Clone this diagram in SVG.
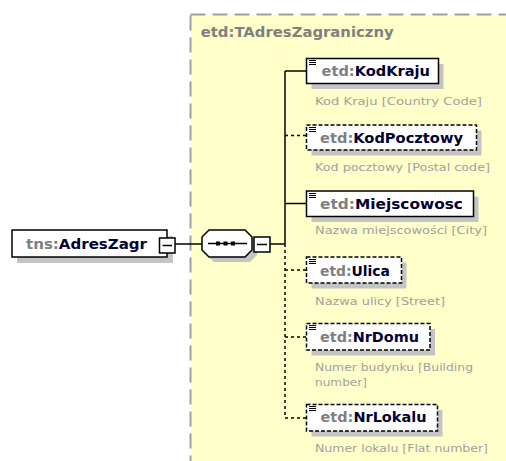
<svg xmlns="http://www.w3.org/2000/svg" width="506" height="461" viewBox="0 0 506 461">
<style>
.box{fill:#fff;stroke:#000;stroke-width:1.5}
.dbox{fill:#fff;stroke:#000;stroke-width:1.5;stroke-dasharray:4 2}
.sh{fill:#c4c4c4}
.nm{font-family:"DejaVu Sans",sans-serif;font-size:13.5px;font-weight:bold;fill:#000033}
.pf{fill:#808080}
.ds{font-family:"DejaVu Sans",sans-serif;font-size:11px;fill:#a0a0a0}
.ln{stroke:#000;stroke-width:1.5;fill:none}
.dl{stroke:#000;stroke-width:1.5;fill:none;stroke-dasharray:3 3}
.ic{stroke:#000;stroke-width:1}
</style>
<rect width="506" height="461" fill="#fff"/>
<g id="type-region">
<rect x="190.5" y="14.5" width="340" height="460" fill="#ffffca" stroke="#a0a0a0" stroke-width="2" stroke-dasharray="15 7"/>
<text x="200.7" y="36.5" font-family="DejaVu Sans, sans-serif" font-size="13.5px" font-weight="bold" fill="#808080" textLength="193" lengthAdjust="spacingAndGlyphs">etd:TAdresZagraniczny</text>
</g>
<g id="connectors">
<line class="ln" x1="175" y1="244" x2="202" y2="244"/>
<line class="ln" x1="270" y1="244" x2="285" y2="244"/>
<line class="ln" x1="285" y1="71" x2="285" y2="244"/>
<line class="dl" x1="285" y1="244" x2="285" y2="418"/>
<line class="ln" x1="285" y1="71" x2="306.5" y2="71"/>
<line class="dl" x1="285" y1="135.5" x2="306.5" y2="135.5"/>
<line class="ln" x1="285" y1="203.5" x2="306.5" y2="203.5"/>
<line class="dl" x1="285" y1="270" x2="306.5" y2="270"/>
<line class="dl" x1="285" y1="337" x2="306.5" y2="337"/>
<line class="dl" x1="285" y1="418" x2="306.5" y2="418"/>
</g>
<g id="AdresZagr">
<rect class="sh" x="17" y="236" width="156" height="27"/>
<rect class="box" x="12" y="230" width="155" height="27"/>
<text class="nm" x="26" y="248.5" textLength="121" lengthAdjust="spacingAndGlyphs"><tspan class="pf">tns:</tspan>AdresZagr</text>
<rect class="box" x="159.5" y="238" width="15.5" height="15"/>
<line class="ln" x1="162.5" y1="245.5" x2="172" y2="245.5"/>
</g>
<g id="sequence">
<polygon class="sh" points="214,235 250,235 257,242 257,255 250,262 214,262 207,255 207,242"/>
<polygon class="box" points="209,230 245,230 252,237 252,250 245,257 209,257 202,250 202,237"/>
<line class="ln" x1="208" y1="243.5" x2="247" y2="243.5"/>
<rect x="216" y="241.5" width="4" height="4"/>
<rect x="223.5" y="241.5" width="4" height="4"/>
<rect x="231" y="241.5" width="4" height="4"/>
<rect class="box" x="254" y="237" width="16" height="15"/>
<line class="ln" x1="257" y1="244.5" x2="267" y2="244.5"/>
</g>
<g id="KodKraju">
<rect class="sh" x="311.5" y="64" width="132" height="25"/>
<rect class="box" x="306.5" y="58.5" width="132" height="25"/>
<g class="ic"><line x1="309" y1="60.5" x2="316" y2="60.5"/><line x1="309" y1="62.5" x2="316" y2="62.5"/><line x1="309" y1="64.5" x2="316" y2="64.5"/></g>
<text class="nm" x="321.5" y="76" textLength="108.5" lengthAdjust="spacingAndGlyphs"><tspan class="pf">etd:</tspan>KodKraju</text>
<text class="ds" x="315" y="105" textLength="167" lengthAdjust="spacingAndGlyphs">Kod Kraju [Country Code]</text>
</g>
<g id="KodPocztowy">
<rect class="sh" x="311.5" y="130.5" width="170" height="25"/>
<rect class="dbox" x="306.5" y="125" width="170" height="25"/>
<g class="ic"><line x1="309" y1="127.5" x2="316" y2="127.5"/><line x1="309" y1="129.5" x2="316" y2="129.5"/><line x1="309" y1="131.5" x2="316" y2="131.5"/></g>
<text class="nm" x="320" y="142.5" textLength="143" lengthAdjust="spacingAndGlyphs"><tspan class="pf">etd:</tspan>KodPocztowy</text>
<text class="ds" x="315" y="170.5" textLength="175" lengthAdjust="spacingAndGlyphs">Kod pocztowy [Postal code]</text>
</g>
<g id="Miejscowosc">
<rect class="sh" x="311.5" y="196.5" width="167" height="25.5"/>
<rect class="box" x="306.5" y="191" width="167" height="25.5"/>
<g class="ic"><line x1="309" y1="193.5" x2="316" y2="193.5"/><line x1="309" y1="195.5" x2="316" y2="195.5"/><line x1="309" y1="197.5" x2="316" y2="197.5"/></g>
<text class="nm" x="320" y="209" textLength="143" lengthAdjust="spacingAndGlyphs"><tspan class="pf">etd:</tspan>Miejscowosc</text>
<text class="ds" x="315" y="234" textLength="172" lengthAdjust="spacingAndGlyphs">Nazwa miejscowości [City]</text>
</g>
<g id="Ulica">
<rect class="sh" x="311.5" y="262.5" width="95" height="26"/>
<rect class="dbox" x="306.5" y="257" width="95" height="26"/>
<g class="ic"><line x1="309" y1="259.5" x2="316" y2="259.5"/><line x1="309" y1="261.5" x2="316" y2="261.5"/><line x1="309" y1="263.5" x2="316" y2="263.5"/></g>
<text class="nm" x="320" y="275.5" textLength="70" lengthAdjust="spacingAndGlyphs"><tspan class="pf">etd:</tspan>Ulica</text>
<text class="ds" x="315" y="304.5" textLength="130" lengthAdjust="spacingAndGlyphs">Nazwa ulicy [Street]</text>
</g>
<g id="NrDomu">
<rect class="sh" x="311.5" y="329" width="123.5" height="26.5"/>
<rect class="dbox" x="306.5" y="323.5" width="123.5" height="26.5"/>
<g class="ic"><line x1="309" y1="325.5" x2="316" y2="325.5"/><line x1="309" y1="327.5" x2="316" y2="327.5"/><line x1="309" y1="329.5" x2="316" y2="329.5"/></g>
<text class="nm" x="320" y="342" textLength="99" lengthAdjust="spacingAndGlyphs"><tspan class="pf">etd:</tspan>NrDomu</text>
<text class="ds" x="315" y="370.5" textLength="158" lengthAdjust="spacingAndGlyphs">Numer budynku [Building</text>
<text class="ds" x="315" y="385.5" textLength="52" lengthAdjust="spacingAndGlyphs">number]</text>
</g>
<g id="NrLokalu">
<rect class="sh" x="311.5" y="410" width="131" height="26.5"/>
<rect class="dbox" x="306.5" y="404.5" width="131" height="26.5"/>
<g class="ic"><line x1="309" y1="406.5" x2="316" y2="406.5"/><line x1="309" y1="408.5" x2="316" y2="408.5"/><line x1="309" y1="410.5" x2="316" y2="410.5"/></g>
<text class="nm" x="320.5" y="422" textLength="106" lengthAdjust="spacingAndGlyphs"><tspan class="pf">etd:</tspan>NrLokalu</text>
<text class="ds" x="315" y="452" textLength="173" lengthAdjust="spacingAndGlyphs">Numer lokalu [Flat number]</text>
</g>
</svg>
